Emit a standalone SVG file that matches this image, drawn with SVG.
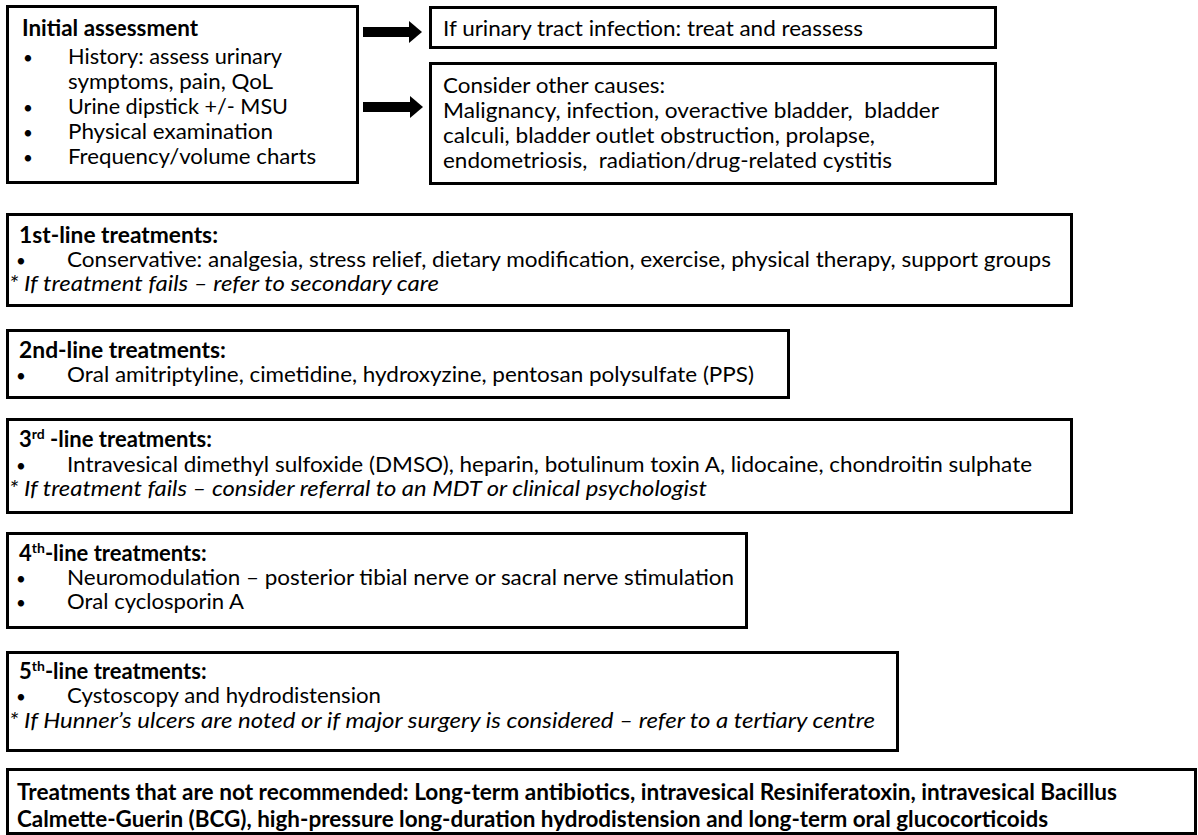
<svg xmlns="http://www.w3.org/2000/svg" width="1198" height="835" viewBox="0 0 1198 835">
<defs>
<style>
.box{fill:#fff;stroke:#000;stroke-width:3}
text{font-family:Lato,"Liberation Sans",sans-serif;font-size:22px;fill:#000}
.b{font-weight:bold}
.i{font-style:italic}
.bl{text-anchor:middle;font-size:17px}
.arrow{stroke:#000;stroke-width:10;fill:none}
</style>
<marker id="head" viewBox="0 0 13 22" refX="0" refY="11" markerWidth="13" markerHeight="22" markerUnits="userSpaceOnUse" orient="auto">
<path d="M0,0 L13,11 L0,22 Z" fill="#000"/>
</marker>
</defs>
<rect width="1198" height="835" fill="#fff"/>

<g id="initial">
<rect class="box" x="7.5" y="6.5" width="350" height="176"/>
<text class="b" x="22" y="36" textLength="176" lengthAdjust="spacingAndGlyphs">Initial assessment</text>
<text class="bl" x="28" y="64">•</text>
<text x="68" y="64" textLength="214" lengthAdjust="spacingAndGlyphs">History: assess urinary</text>
<text x="68" y="89" textLength="205" lengthAdjust="spacingAndGlyphs">symptoms, pain, QoL</text>
<text class="bl" x="28" y="114">•</text>
<text x="68" y="114" textLength="220" lengthAdjust="spacingAndGlyphs">Urine dipstick +/- MSU</text>
<text class="bl" x="28" y="139">•</text>
<text x="68" y="139" textLength="205" lengthAdjust="spacingAndGlyphs">Physical examination</text>
<text class="bl" x="28" y="164">•</text>
<text x="68" y="164" textLength="248" lengthAdjust="spacingAndGlyphs">Frequency/volume charts</text>
</g>

<g id="uti">
<rect class="box" x="430.5" y="7.5" width="565" height="40"/>
<text x="443" y="36" textLength="420" lengthAdjust="spacingAndGlyphs">If urinary tract infection: treat and reassess</text>
</g>

<g id="other-causes">
<rect class="box" x="430.5" y="63.5" width="565" height="120"/>
<text x="443" y="93" textLength="222" lengthAdjust="spacingAndGlyphs">Consider other causes:</text>
<text x="443" y="118" xml:space="preserve" textLength="496" lengthAdjust="spacingAndGlyphs">Malignancy, infection, overactive bladder,  bladder</text>
<text x="443" y="143" textLength="432" lengthAdjust="spacingAndGlyphs">calculi, bladder outlet obstruction, prolapse,</text>
<text x="443" y="168" xml:space="preserve" textLength="449" lengthAdjust="spacingAndGlyphs">endometriosis,  radiation/drug-related cystitis</text>
</g>

<g id="line1">
<rect class="box" x="7.5" y="214.5" width="1064" height="91"/>
<text class="b" x="19" y="243" textLength="199" lengthAdjust="spacingAndGlyphs">1st-line treatments:</text>
<text class="bl" x="21" y="267">•</text>
<text x="67" y="267" textLength="984" lengthAdjust="spacingAndGlyphs">Conservative: analgesia, stress relief, dietary modification, exercise, physical therapy, support groups</text>
<text class="i" x="9" y="291" textLength="430" lengthAdjust="spacingAndGlyphs">* If treatment fails – refer to secondary care</text>
</g>

<g id="line2">
<rect class="box" x="7.5" y="330.5" width="781" height="67"/>
<text class="b" x="19" y="358" textLength="207" lengthAdjust="spacingAndGlyphs">2nd-line treatments:</text>
<text class="bl" x="21" y="382">•</text>
<text x="67" y="382" textLength="687" lengthAdjust="spacingAndGlyphs">Oral amitriptyline, cimetidine, hydroxyzine, pentosan polysulfate (PPS)</text>
</g>

<g id="line3">
<rect class="box" x="7.5" y="419.5" width="1064" height="93"/>
<text class="b" x="19" y="447">3<tspan font-size="14" dy="-8">rd</tspan><tspan dy="8"> -line treatments:</tspan></text>
<text class="bl" x="21" y="472">•</text>
<text x="67" y="472" textLength="965" lengthAdjust="spacingAndGlyphs">Intravesical dimethyl sulfoxide (DMSO), heparin, botulinum toxin A, lidocaine, chondroitin sulphate</text>
<text class="i" x="9" y="496" textLength="698" lengthAdjust="spacingAndGlyphs">* If treatment fails – consider referral to an MDT or clinical psychologist</text>
</g>

<g id="line4">
<rect class="box" x="7.5" y="533.5" width="739" height="94"/>
<text class="b" x="19" y="561">4<tspan font-size="14" dy="-8">th</tspan><tspan dy="8">-line treatments:</tspan></text>
<text class="bl" x="21" y="585">•</text>
<text x="67" y="585" textLength="667" lengthAdjust="spacingAndGlyphs">Neuromodulation – posterior tibial nerve or sacral nerve stimulation</text>
<text class="bl" x="21" y="609">•</text>
<text x="67" y="609" textLength="177" lengthAdjust="spacingAndGlyphs">Oral cyclosporin A</text>
</g>

<g id="line5">
<rect class="box" x="7.5" y="652.5" width="890" height="98"/>
<text class="b" x="19" y="679">5<tspan font-size="14" dy="-8">th</tspan><tspan dy="8">-line treatments:</tspan></text>
<text class="bl" x="21" y="703">•</text>
<text x="67" y="703" textLength="314" lengthAdjust="spacingAndGlyphs">Cystoscopy and hydrodistension</text>
<text class="i" x="9" y="728" textLength="866" lengthAdjust="spacingAndGlyphs">* If Hunner’s ulcers are noted or if major surgery is considered – refer to a tertiary centre</text>
</g>

<g id="not-recommended">
<rect class="box" x="7.5" y="769.5" width="1188" height="64"/>
<text class="b" x="17" y="800" textLength="1100" lengthAdjust="spacingAndGlyphs">Treatments that are not recommended: Long-term antibiotics, intravesical Resiniferatoxin, intravesical Bacillus</text>
<text class="b" x="17" y="827" textLength="1031" lengthAdjust="spacingAndGlyphs">Calmette-Guerin (BCG), high-pressure long-duration hydrodistension and long-term oral glucocorticoids</text>
</g>

<g id="connectors">
<line class="arrow" x1="363" y1="32" x2="409" y2="32" marker-end="url(#head)"/>
<line class="arrow" x1="363" y1="107" x2="410" y2="107" marker-end="url(#head)"/>
</g>
</svg>
